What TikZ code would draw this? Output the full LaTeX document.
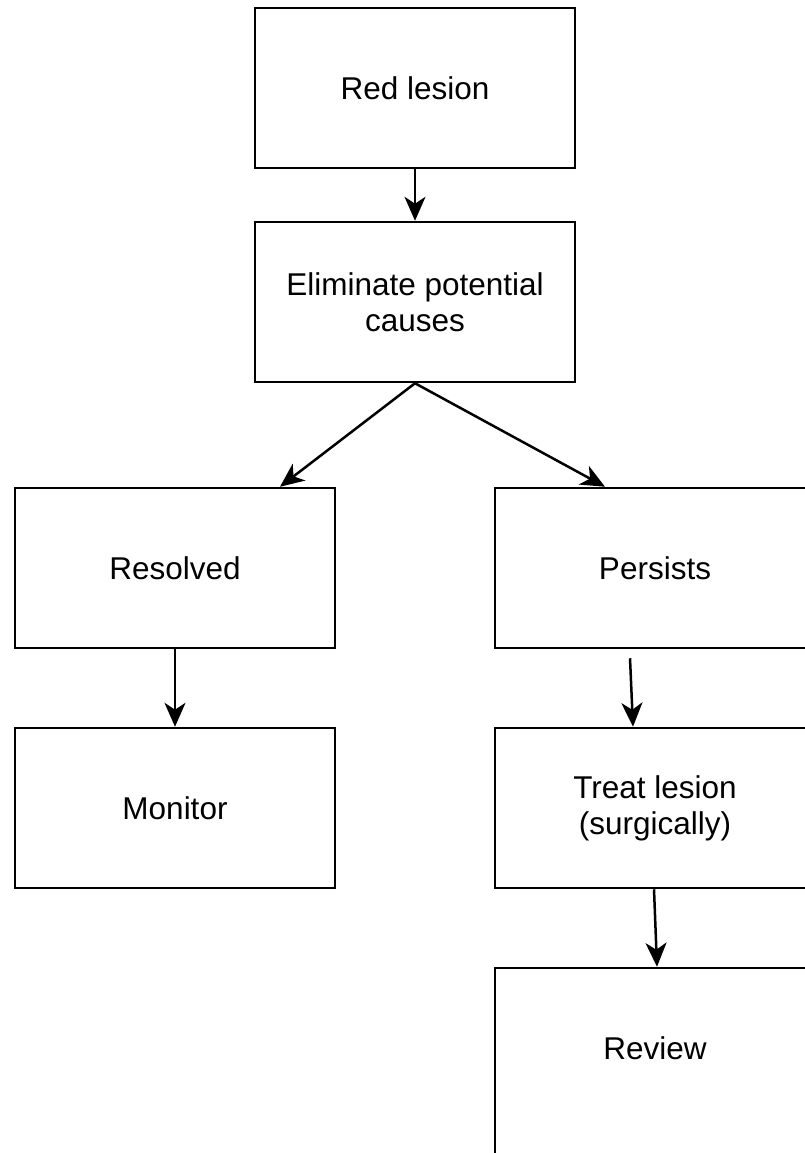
\documentclass[tikz,border=0pt]{standalone}
\usepackage{fontspec}
\setmainfont{Liberation Sans}
\usetikzlibrary{arrows.meta,calc}
\begin{document}
\begin{tikzpicture}[x=1pt,y=-1pt,
  box/.style={draw=black,line width=2.5pt,minimum width=320pt,minimum height=160pt,inner sep=0pt,align=center,font=\fontsize{31.5}{36}\selectfont},
  lbl/.style={inner sep=0pt,align=center,font=\fontsize{31.5}{36}\selectfont},
  arr/.style={line width=2.5pt,-{Stealth[length=24pt,width=21pt,inset=7pt]}}]
\useasboundingbox (0,0) rectangle (805,1153);
\clip (0,0) rectangle (805,1153);
\node[box] (red) at (415,88) {Red lesion};
\node[box] (elim) at (415,302) {Eliminate potential\\causes};
\node[box] (resolved) at (175,568) {Resolved};
\node[box] (persists) at (655,568) {Persists};
\node[box] (monitor) at (175,808) {Monitor};
\node[box] (treat) at (655,808) {Treat lesion\\(surgically)};
\node[box,minimum height=320pt] (review) at (655,1128) {};
\node[lbl] (reviewtext) at (655,1048) {Review};
\draw[arr] (red.south) -- (elim.north);
\draw[arr] (elim.south) -- ($(resolved.north)+(105,0)$);
\draw[arr] (elim.south) -- ($(persists.north)+(-50,0)$);
\draw[arr] (resolved.south) -- (monitor.north);
\draw[arr] ($(persists.south)+(-25,9)$) -- ($(treat.north)+(-22,0)$);
\draw[arr] ($(treat.south)+(-1,0)$) -- ($(review.north)+(2,0)$);
\end{tikzpicture}
\end{document}
